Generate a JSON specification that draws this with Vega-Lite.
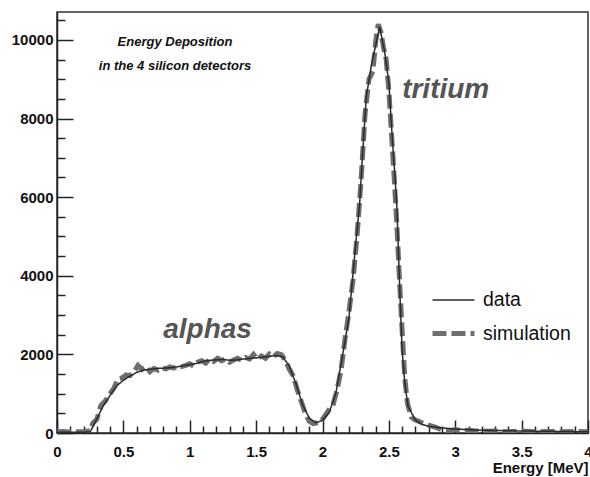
{
  "$schema": "https://vega.github.io/schema/vega-lite/v6.json",
  "width": 531,
  "height": 421,
  "autosize": {"type": "none"},
  "padding": {"left": 57, "top": 12, "right": 2, "bottom": 44},
  "background": "white",
  "config": {
    "font": "Liberation Sans",
    "view": {"stroke": "#333333", "strokeWidth": 1.5},
    "axis": {"labelOverlap": false, "labelBound": false, "labelFlush": false}
  },
  "datasets": {
    "curves": [
      {"series": "simulation", "E": 0.00, "V": 30},
      {"series": "simulation", "E": 0.05, "V": 40},
      {"series": "simulation", "E": 0.10, "V": 20},
      {"series": "simulation", "E": 0.15, "V": 30},
      {"series": "simulation", "E": 0.20, "V": 30},
      {"series": "simulation", "E": 0.25, "V": 60},
      {"series": "simulation", "E": 0.27, "V": 250},
      {"series": "simulation", "E": 0.30, "V": 350},
      {"series": "simulation", "E": 0.33, "V": 700},
      {"series": "simulation", "E": 0.36, "V": 800},
      {"series": "simulation", "E": 0.40, "V": 1000},
      {"series": "simulation", "E": 0.43, "V": 1150},
      {"series": "simulation", "E": 0.46, "V": 1380},
      {"series": "simulation", "E": 0.49, "V": 1400},
      {"series": "simulation", "E": 0.52, "V": 1480},
      {"series": "simulation", "E": 0.55, "V": 1460},
      {"series": "simulation", "E": 0.58, "V": 1560},
      {"series": "simulation", "E": 0.61, "V": 1720},
      {"series": "simulation", "E": 0.64, "V": 1620},
      {"series": "simulation", "E": 0.67, "V": 1700},
      {"series": "simulation", "E": 0.70, "V": 1560},
      {"series": "simulation", "E": 0.73, "V": 1640},
      {"series": "simulation", "E": 0.76, "V": 1600},
      {"series": "simulation", "E": 0.79, "V": 1660},
      {"series": "simulation", "E": 0.82, "V": 1630},
      {"series": "simulation", "E": 0.85, "V": 1680},
      {"series": "simulation", "E": 0.88, "V": 1650},
      {"series": "simulation", "E": 0.91, "V": 1700},
      {"series": "simulation", "E": 0.94, "V": 1690},
      {"series": "simulation", "E": 0.97, "V": 1720},
      {"series": "simulation", "E": 1.00, "V": 1760},
      {"series": "simulation", "E": 1.03, "V": 1700},
      {"series": "simulation", "E": 1.06, "V": 1800},
      {"series": "simulation", "E": 1.09, "V": 1840},
      {"series": "simulation", "E": 1.12, "V": 1780},
      {"series": "simulation", "E": 1.15, "V": 1880},
      {"series": "simulation", "E": 1.18, "V": 1820},
      {"series": "simulation", "E": 1.21, "V": 1900},
      {"series": "simulation", "E": 1.24, "V": 1840},
      {"series": "simulation", "E": 1.27, "V": 1880},
      {"series": "simulation", "E": 1.30, "V": 1800},
      {"series": "simulation", "E": 1.33, "V": 1860},
      {"series": "simulation", "E": 1.36, "V": 1900},
      {"series": "simulation", "E": 1.39, "V": 1850},
      {"series": "simulation", "E": 1.42, "V": 1920},
      {"series": "simulation", "E": 1.45, "V": 1880},
      {"series": "simulation", "E": 1.48, "V": 2000},
      {"series": "simulation", "E": 1.51, "V": 1880},
      {"series": "simulation", "E": 1.54, "V": 1960},
      {"series": "simulation", "E": 1.57, "V": 1900},
      {"series": "simulation", "E": 1.60, "V": 2010},
      {"series": "simulation", "E": 1.63, "V": 1940},
      {"series": "simulation", "E": 1.66, "V": 2020},
      {"series": "simulation", "E": 1.69, "V": 1990},
      {"series": "simulation", "E": 1.72, "V": 1850},
      {"series": "simulation", "E": 1.75, "V": 1620},
      {"series": "simulation", "E": 1.78, "V": 1450},
      {"series": "simulation", "E": 1.81, "V": 1100},
      {"series": "simulation", "E": 1.84, "V": 800},
      {"series": "simulation", "E": 1.87, "V": 500},
      {"series": "simulation", "E": 1.90, "V": 300},
      {"series": "simulation", "E": 1.93, "V": 240},
      {"series": "simulation", "E": 1.96, "V": 260},
      {"series": "simulation", "E": 1.99, "V": 300},
      {"series": "simulation", "E": 2.02, "V": 450},
      {"series": "simulation", "E": 2.05, "V": 600},
      {"series": "simulation", "E": 2.08, "V": 720},
      {"series": "simulation", "E": 2.11, "V": 1100},
      {"series": "simulation", "E": 2.14, "V": 1600},
      {"series": "simulation", "E": 2.17, "V": 2400},
      {"series": "simulation", "E": 2.20, "V": 3100},
      {"series": "simulation", "E": 2.23, "V": 3900},
      {"series": "simulation", "E": 2.26, "V": 5000},
      {"series": "simulation", "E": 2.29, "V": 6400},
      {"series": "simulation", "E": 2.32, "V": 8100},
      {"series": "simulation", "E": 2.35, "V": 9000},
      {"series": "simulation", "E": 2.38, "V": 9200},
      {"series": "simulation", "E": 2.40, "V": 9950},
      {"series": "simulation", "E": 2.42, "V": 10400},
      {"series": "simulation", "E": 2.44, "V": 10200},
      {"series": "simulation", "E": 2.46, "V": 9800},
      {"series": "simulation", "E": 2.48, "V": 9500},
      {"series": "simulation", "E": 2.50, "V": 8700},
      {"series": "simulation", "E": 2.52, "V": 7600},
      {"series": "simulation", "E": 2.54, "V": 6500},
      {"series": "simulation", "E": 2.56, "V": 5300},
      {"series": "simulation", "E": 2.58, "V": 3900},
      {"series": "simulation", "E": 2.60, "V": 2600},
      {"series": "simulation", "E": 2.62, "V": 1400},
      {"series": "simulation", "E": 2.64, "V": 750},
      {"series": "simulation", "E": 2.67, "V": 400},
      {"series": "simulation", "E": 2.70, "V": 330},
      {"series": "simulation", "E": 2.75, "V": 260},
      {"series": "simulation", "E": 2.80, "V": 200},
      {"series": "simulation", "E": 2.85, "V": 150},
      {"series": "simulation", "E": 2.90, "V": 80},
      {"series": "simulation", "E": 2.95, "V": 60},
      {"series": "simulation", "E": 3.00, "V": 90},
      {"series": "simulation", "E": 3.05, "V": 60},
      {"series": "simulation", "E": 3.10, "V": 70},
      {"series": "simulation", "E": 3.20, "V": 40},
      {"series": "simulation", "E": 3.30, "V": 50},
      {"series": "simulation", "E": 3.40, "V": 30},
      {"series": "simulation", "E": 3.50, "V": 50},
      {"series": "simulation", "E": 3.60, "V": 30},
      {"series": "simulation", "E": 3.70, "V": 40},
      {"series": "simulation", "E": 3.80, "V": 30},
      {"series": "simulation", "E": 3.90, "V": 40},
      {"series": "simulation", "E": 4.00, "V": 30},
      {"series": "data", "E": 0.00, "V": 20},
      {"series": "data", "E": 0.10, "V": 20},
      {"series": "data", "E": 0.20, "V": 20},
      {"series": "data", "E": 0.25, "V": 30},
      {"series": "data", "E": 0.30, "V": 360},
      {"series": "data", "E": 0.35, "V": 700},
      {"series": "data", "E": 0.40, "V": 960},
      {"series": "data", "E": 0.45, "V": 1200},
      {"series": "data", "E": 0.50, "V": 1340},
      {"series": "data", "E": 0.55, "V": 1450},
      {"series": "data", "E": 0.60, "V": 1540},
      {"series": "data", "E": 0.65, "V": 1600},
      {"series": "data", "E": 0.70, "V": 1620},
      {"series": "data", "E": 0.75, "V": 1640},
      {"series": "data", "E": 0.80, "V": 1650},
      {"series": "data", "E": 0.85, "V": 1660},
      {"series": "data", "E": 0.90, "V": 1680},
      {"series": "data", "E": 0.95, "V": 1710},
      {"series": "data", "E": 1.00, "V": 1740},
      {"series": "data", "E": 1.05, "V": 1770},
      {"series": "data", "E": 1.10, "V": 1820},
      {"series": "data", "E": 1.15, "V": 1850},
      {"series": "data", "E": 1.20, "V": 1860},
      {"series": "data", "E": 1.25, "V": 1870},
      {"series": "data", "E": 1.30, "V": 1850},
      {"series": "data", "E": 1.35, "V": 1860},
      {"series": "data", "E": 1.40, "V": 1880},
      {"series": "data", "E": 1.45, "V": 1900},
      {"series": "data", "E": 1.50, "V": 1910},
      {"series": "data", "E": 1.55, "V": 1930},
      {"series": "data", "E": 1.60, "V": 1950},
      {"series": "data", "E": 1.65, "V": 1970},
      {"series": "data", "E": 1.70, "V": 1940},
      {"series": "data", "E": 1.75, "V": 1700},
      {"series": "data", "E": 1.80, "V": 1250},
      {"series": "data", "E": 1.85, "V": 720},
      {"series": "data", "E": 1.90, "V": 380},
      {"series": "data", "E": 1.95, "V": 260},
      {"series": "data", "E": 2.00, "V": 320},
      {"series": "data", "E": 2.05, "V": 520},
      {"series": "data", "E": 2.10, "V": 1000},
      {"series": "data", "E": 2.15, "V": 1950},
      {"series": "data", "E": 2.20, "V": 2950},
      {"series": "data", "E": 2.25, "V": 4800},
      {"series": "data", "E": 2.28, "V": 5850},
      {"series": "data", "E": 2.30, "V": 7000},
      {"series": "data", "E": 2.33, "V": 8550},
      {"series": "data", "E": 2.37, "V": 9400},
      {"series": "data", "E": 2.40, "V": 9850},
      {"series": "data", "E": 2.43, "V": 10340},
      {"series": "data", "E": 2.47, "V": 9660},
      {"series": "data", "E": 2.50, "V": 8900},
      {"series": "data", "E": 2.52, "V": 7790},
      {"series": "data", "E": 2.55, "V": 6300},
      {"series": "data", "E": 2.56, "V": 5760},
      {"series": "data", "E": 2.57, "V": 4800},
      {"series": "data", "E": 2.585, "V": 3380},
      {"series": "data", "E": 2.60, "V": 2110},
      {"series": "data", "E": 2.62, "V": 1260},
      {"series": "data", "E": 2.645, "V": 670},
      {"series": "data", "E": 2.70, "V": 330},
      {"series": "data", "E": 2.75, "V": 220},
      {"series": "data", "E": 2.80, "V": 170},
      {"series": "data", "E": 2.85, "V": 150},
      {"series": "data", "E": 2.90, "V": 130},
      {"series": "data", "E": 3.00, "V": 100},
      {"series": "data", "E": 3.20, "V": 70},
      {"series": "data", "E": 3.50, "V": 50},
      {"series": "data", "E": 3.80, "V": 40},
      {"series": "data", "E": 4.00, "V": 30}
    ]
  },
  "layer": [
    {
      "data": {"name": "curves"},
      "transform": [{"filter": "datum.series == 'simulation'"}],
      "mark": {"type": "line", "interpolate": "linear", "clip": true},
      "encoding": {
        "x": {
          "field": "E", "type": "quantitative",
          "scale": {"domain": [0, 4], "nice": false, "zero": false},
          "axis": {
            "title": "Energy [MeV]",
            "titleFont": "Liberation Sans",
            "titleFontSize": 15,
            "titleFontWeight": "bold",
            "titleColor": "#111111",
            "titleAnchor": "end",
            "titleAlign": "right",
            "titlePadding": -5,
            "tickCount": 500,
            "values": [0,0.1,0.2,0.3,0.4,0.5,0.6,0.7,0.8,0.9,1,1.1,1.2,1.3,1.4,1.5,1.6,1.7,1.8,1.9,2,2.1,2.2,2.3,2.4,2.5,2.6,2.7,2.8,2.9,3,3.1,3.2,3.3,3.4,3.5,3.6,3.7,3.8,3.9,4],
            "labelExpr": "abs(datum.value*2 - round(datum.value*2)) < 0.001 ? format(datum.value, '~g') : ''",
            "labelFontSize": 15,
            "labelFontWeight": "bold",
            "labelColor": "#111111",
            "labelPadding": 24,
            "labelOverlap": false,
            "labelBound": false,
            "labelFlush": false,
            "grid": false,
            "domainColor": "#222222",
            "domainWidth": 1.5,
            "tickColor": "#222222",
            "tickWidth": 1.5,
            "tickSize": {"condition": {"test": "abs(datum.value*2 - round(datum.value*2)) < 0.001", "value": -13}, "value": -7}
          }
        },
        "y": {
          "field": "V", "type": "quantitative",
          "scale": {"domain": [0, 10710], "nice": false, "zero": false},
          "axis": {
            "title": null,
            "tickCount": 500,
            "values": [0,500,1000,1500,2000,2500,3000,3500,4000,4500,5000,5500,6000,6500,7000,7500,8000,8500,9000,9500,10000,10500],
            "labelExpr": "datum.value % 2000 == 0 ? format(datum.value, 'd') : ''",
            "labelFontSize": 15,
            "labelFontWeight": "bold",
            "labelColor": "#111111",
            "labelPadding": 20,
            "labelOverlap": false,
            "labelBound": false,
            "labelFlush": false,
            "grid": false,
            "domainColor": "#222222",
            "domainWidth": 1.5,
            "tickColor": "#222222",
            "tickWidth": 1.5,
            "tickSize": {"condition": {"test": "datum.value % 2000 == 0", "value": -16}, "value": -8}
          }
        },
        "color": {
          "field": "series", "type": "nominal",
          "scale": {"domain": ["data", "simulation"], "range": ["#2b2b2b", "#6e6e6e"]},
          "legend": {
            "title": null,
            "orient": "none",
            "legendX": 373,
            "legendY": 266,
            "symbolType": "stroke",
            "symbolSize": 1764,
            "labelFont": "Liberation Sans",
            "labelFontSize": 19.5,
            "labelColor": "#111111",
            "labelOffset": 6,
            "rowPadding": 0
          }
        },
        "strokeDash": {
          "field": "series", "type": "nominal",
          "scale": {"domain": ["data", "simulation"], "range": [[1, 0], [14, 5]]},
          "legend": {
            "title": null,
            "orient": "none",
            "legendX": 373,
            "legendY": 266,
            "symbolType": "stroke",
            "symbolSize": 1764,
            "labelFont": "Liberation Sans",
            "labelFontSize": 19.5,
            "labelColor": "#111111",
            "labelOffset": 6,
            "rowPadding": 0
          }
        },
        "strokeWidth": {
          "field": "series", "type": "nominal",
          "scale": {"domain": ["data", "simulation"], "range": [1.5, 5]},
          "legend": {
            "title": null,
            "orient": "none",
            "legendX": 373,
            "legendY": 266,
            "symbolType": "stroke",
            "symbolSize": 1764,
            "labelFont": "Liberation Sans",
            "labelFontSize": 19.5,
            "labelColor": "#111111",
            "labelOffset": 6,
            "rowPadding": 0
          }
        }
      }
    },
    {
      "data": {"name": "curves"},
      "transform": [{"filter": "datum.series == 'data'"}],
      "mark": {"type": "line", "interpolate": "linear", "clip": true},
      "encoding": {
        "x": {"field": "E", "type": "quantitative"},
        "y": {"field": "V", "type": "quantitative"},
        "color": {"field": "series", "type": "nominal"},
        "strokeDash": {"field": "series", "type": "nominal"},
        "strokeWidth": {"field": "series", "type": "nominal"}
      }
    },
    {
      "data": {"values": [
        {"E": 0.889, "V": 9950, "label": "Energy Deposition"},
        {"E": 0.889, "V": 9340, "label": "in the 4 silicon detectors"}
      ]},
      "mark": {"type": "text", "font": "Liberation Sans", "fontSize": 13, "fontWeight": "bold", "fontStyle": "italic", "align": "center", "baseline": "middle", "color": "#111111"},
      "encoding": {
        "x": {"field": "E", "type": "quantitative"},
        "y": {"field": "V", "type": "quantitative"},
        "text": {"field": "label"}
      }
    },
    {
      "data": {"values": [
        {"E": 2.6, "V": 8730, "label": "tritium"},
        {"E": 0.8, "V": 2620, "label": "alphas"}
      ]},
      "mark": {"type": "text", "font": "Liberation Sans", "fontSize": 28, "fontWeight": "bold", "fontStyle": "italic", "align": "left", "baseline": "middle", "color": "#555555"},
      "encoding": {
        "x": {"field": "E", "type": "quantitative"},
        "y": {"field": "V", "type": "quantitative"},
        "text": {"field": "label"}
      }
    }
  ]
}
